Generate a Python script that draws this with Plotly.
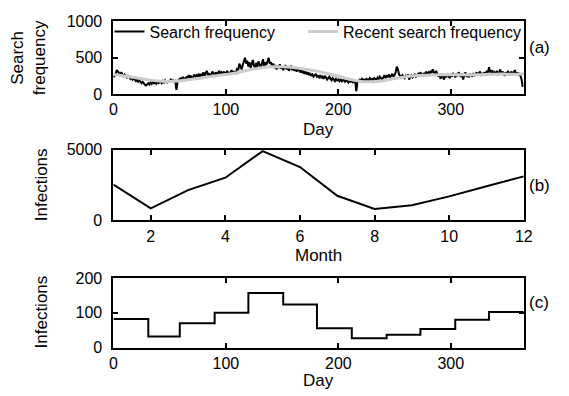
import numpy as np
import plotly.graph_objects as go

# ---- data ----------------------------------------------------------------
# daily search frequency (days 0..364)
search_freq = (
    [230, 250, 280, 330, 310, 290, 270, 300, 260, 240, 270, 250, 230, 260, 240, 210, 230, 200, 220, 190]
    + [180, 200, 170, 190, 160, 150, 170, 140, 130, 120, 140, 150, 130, 160, 140, 170, 150, 160, 140, 170]
    + [150, 160, 170, 150, 180, 160, 190, 170, 160, 180, 170, 200, 180, 190, 170, 180, 60, 170, 200, 210]
    + [220, 190, 230, 210, 200, 240, 220, 260, 230, 250, 210, 240, 270, 230, 260, 250, 280, 240, 270, 260]
    + [300, 250, 280, 320, 260, 290, 250, 270, 310, 280, 260, 300, 270, 290, 320, 280, 300, 270, 310, 290]
    + [280, 320, 290, 270, 300, 330, 280, 310, 300, 290, 360, 330, 420, 380, 340, 400, 470, 500, 420, 460]
    + [380, 440, 360, 410, 470, 390, 350, 430, 370, 450, 400, 360, 420, 480, 380, 440, 400, 460, 500, 420]
    + [440, 380, 420, 360, 400, 340, 390, 360, 410, 350, 380, 330, 370, 400, 340, 380, 320, 360, 390, 330]
    + [370, 320, 350, 310, 360, 330, 300, 340, 290, 320, 280, 310, 270, 300, 260, 290, 250, 270, 240, 260]
    + [280, 240, 250, 230, 260, 220, 240, 210, 250, 230, 200, 220, 240, 210, 190, 220, 200, 180, 210, 190]
    + [200, 180, 210, 170, 190, 200, 170, 190, 180, 160, 190, 170, 180, 160, 170, 180, 40, 170, 180, 200]
    + [190, 210, 180, 200, 190, 210, 200, 190, 220, 200, 210, 190, 220, 210, 200, 230, 210, 240, 220, 200]
    + [230, 260, 220, 250, 240, 270, 230, 250, 280, 240, 260, 300, 380, 340, 270, 250, 230, 260, 240, 220]
    + [250, 230, 270, 200, 240, 260, 230, 250, 270, 240, 260, 280, 250, 300, 270, 250, 290, 260, 310, 280]
    + [300, 270, 320, 290, 340, 300, 260, 320, 280, 240, 260, 210, 280, 240, 200, 260, 230, 280, 250, 220]
    + [270, 240, 290, 260, 230, 280, 250, 300, 270, 240, 280, 200, 260, 300, 240, 270, 230, 280, 260, 240]
    + [290, 250, 270, 300, 260, 280, 310, 250, 290, 270, 300, 260, 320, 280, 370, 310, 290, 330, 270, 300]
    + [280, 320, 260, 300, 340, 270, 310, 290, 250, 300, 280, 320, 260, 290, 310, 270, 300, 330, 280, 300]
    + [260, 290, 250, 200, 100]
)
search_days = list(range(len(search_freq)))

# smoothed recent search frequency
recent_days = [0, 10, 20, 30, 40, 50, 60, 70, 80, 90, 100, 110, 120, 130, 140, 150, 160, 170, 180,
               190, 200, 210, 220, 230, 240, 250, 260, 270, 280, 290, 300, 310, 320, 330, 340, 350, 360, 365]
recent_freq = [270, 250, 225, 200, 180, 175, 185, 205, 225, 250, 270, 295, 330, 360, 375, 375, 365, 345, 320,
               285, 245, 205, 175, 170, 185, 215, 240, 255, 260, 265, 265, 265, 265, 270, 275, 275, 275, 280]

# monthly infections
months = [1, 2, 3, 4, 5, 6, 7, 8, 9, 10, 11, 12]
monthly_infections = [2530, 860, 2140, 3020, 4900, 3770, 1745, 815, 1070, 1700, 2420, 3115]

# daily infections (constant within each month)
month_start_days = [0, 31, 59, 90, 120, 151, 181, 212, 243, 273, 304, 334, 365]
daily_infections = [82, 32, 70, 100, 157, 124, 56, 27, 37, 54, 80, 102]

# ---- figure ----------------------------------------------------------------
W, H = 569, 396
FONT = "Liberation Sans, Arial, sans-serif"

def px_x(p):
    return p / W

def px_y(p):
    return 1 - p / H

x_dom = [px_x(112), px_x(532)]
panels = {"a": (14, 90), "b": (148, 222), "c": (282, 355)}

fig = go.Figure()

fig.add_trace(go.Scatter(x=search_days, y=search_freq, mode="lines", name="Search frequency",
                         line=dict(color="black", width=2), xaxis="x", yaxis="y", legend="legend"))
fig.add_trace(go.Scatter(x=recent_days, y=recent_freq, mode="lines", name="Recent search frequency",
                         line=dict(color="#cccccc", width=3, shape="spline"), xaxis="x", yaxis="y",
                         legend="legend2"))
fig.add_trace(go.Scatter(x=months, y=monthly_infections, mode="lines", showlegend=False,
                         line=dict(color="black", width=2), xaxis="x2", yaxis="y2"))
fig.add_trace(go.Scatter(x=month_start_days, y=daily_infections + daily_infections[-1:], mode="lines",
                         showlegend=False, line=dict(color="black", width=2, shape="hv"),
                         xaxis="x3", yaxis="y3"))

axis_common = dict(showline=True, linecolor="black", linewidth=2, mirror="ticks",
                   ticks="inside", ticklen=5, tickwidth=1.5, tickcolor="black",
                   showgrid=False, zeroline=False,
                   tickfont=dict(family=FONT, size=16, color="black"))

def ydom(key):
    top, bot = panels[key]
    return [px_y(bot), px_y(top)]

legend_common = dict(orientation="h", xanchor="left", yanchor="top",
                     bgcolor="rgba(0,0,0,0)", borderwidth=0, itemwidth=30,
                     font=dict(family=FONT, size=16, color="black"))

fig.update_layout(
    width=W, height=H,
    margin=dict(l=0, r=0, t=0, b=0),
    paper_bgcolor="white", plot_bgcolor="white",
    font=dict(family=FONT, size=16, color="black"),
    xaxis=dict(domain=x_dom, range=[0, 365], tickvals=[0, 100, 200, 300], anchor="y", **axis_common),
    yaxis=dict(domain=ydom("a"), range=[0, 1000], tickvals=[0, 500, 1000], anchor="x",
               ticklabelstandoff=6, **axis_common),
    xaxis2=dict(domain=x_dom, range=[1, 12], tickvals=[2, 4, 6, 8, 10, 12], anchor="y2", **axis_common),
    yaxis2=dict(domain=ydom("b"), range=[0, 5000], tickvals=[0, 5000], anchor="x2",
                ticklabelstandoff=6, **axis_common),
    xaxis3=dict(domain=x_dom, range=[0, 365], tickvals=[0, 100, 200, 300], anchor="y3", **axis_common),
    yaxis3=dict(domain=ydom("c"), range=[0, 200], tickvals=[0, 100, 200], anchor="x3",
                ticklabelstandoff=6, **axis_common),
    legend=dict(x=px_x(108), y=px_y(7), **legend_common),
    legend2=dict(x=px_x(306), y=px_y(7), **legend_common),
    showlegend=True,
)

x_mid = (x_dom[0] + x_dom[1]) / 2
annotations = [
    dict(text="Day", x=x_mid, y=px_y(127)),
    dict(text="Month", x=x_mid, y=px_y(259)),
    dict(text="Day", x=x_mid, y=px_y(389)),
    dict(text="Search<br>frequency", x=px_x(25), y=px_y(52), textangle=-90),
    dict(text="Infections", x=px_x(38), y=px_y(185), textangle=-90),
    dict(text="Infections", x=px_x(38), y=px_y(318), textangle=-90),
    dict(text="(a)", x=px_x(548), y=px_y(41)),
    dict(text="(b)", x=px_x(548), y=px_y(185)),
    dict(text="(c)", x=px_x(548), y=px_y(308)),
]
for a in annotations:
    a.update(xref="paper", yref="paper", showarrow=False, xanchor="center", yanchor="middle",
             font=dict(family=FONT, size=17, color="black"))
fig.update_layout(annotations=annotations)

fig.write_html("out.html")
